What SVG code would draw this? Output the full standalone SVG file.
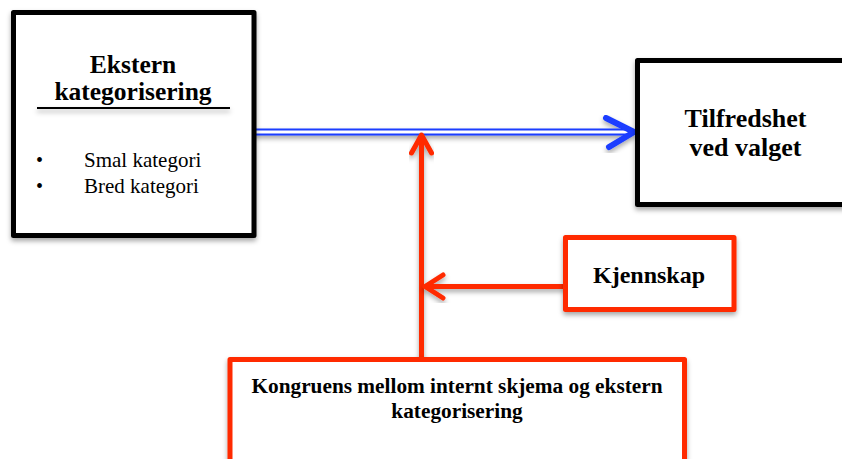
<svg xmlns="http://www.w3.org/2000/svg" width="842" height="459" viewBox="0 0 842 459">
  <defs>
    <filter id="shadow" x="-10%" y="-10%" width="120%" height="130%">
      <feDropShadow dx="0" dy="3" stdDeviation="2.5" flood-color="#000" flood-opacity="0.35"/>
    </filter>
    <filter id="shadow-line" filterUnits="userSpaceOnUse" x="0" y="90" width="260" height="40">
      <feDropShadow dx="0" dy="3" stdDeviation="2.5" flood-color="#000" flood-opacity="0.35"/>
    </filter>
    <style>
      .box-black { fill: #fff; stroke: #000; stroke-width: 5; stroke-linejoin: round; }
      .box-red { fill: #fff; stroke: #ff2a00; stroke-width: 5; stroke-linejoin: round; }
      .title { font-family: "Liberation Serif", "Times New Roman", serif; font-weight: bold; fill: #000; text-anchor: middle; }
      .body { font-family: "Liberation Serif", "Times New Roman", serif; fill: #000; }
      .red-line { stroke: #ff2a00; stroke-width: 5; fill: none; stroke-linecap: round; stroke-linejoin: round; }
      .blue-head { stroke: #1a3cff; stroke-width: 6; fill: none; stroke-linecap: round; stroke-linejoin: round; }
    </style>
  </defs>

  <!-- connectors -->
  <g id="connectors">
    <!-- double blue line from Ekstern kategorisering to Tilfredshet -->
    <g filter="url(#shadow)">
      <line x1="254" y1="132" x2="630" y2="132" stroke="#1a3cff" stroke-width="7"/>
      <line x1="254" y1="132" x2="628" y2="132" stroke="#fff" stroke-width="3"/>
      <polyline class="blue-head" points="606,118 634,132 609,147"/>
    </g>
    <!-- red vertical arrow from Kongruens box up to blue line -->
    <g filter="url(#shadow)">
      <line class="red-line" x1="421.5" y1="358" x2="421.5" y2="136" stroke-linecap="butt"/>
      <polyline class="red-line" points="411.5,153 421.5,135 431.5,153"/>
    </g>
    <!-- red horizontal arrow from Kjennskap to vertical arrow -->
    <g filter="url(#shadow)">
      <line class="red-line" x1="565" y1="286.5" x2="427" y2="286.5" stroke-linecap="butt"/>
      <polyline class="red-line" points="443,275 425,286.5 443,298"/>
    </g>
  </g>

  <!-- Ekstern kategorisering -->
  <g id="ekstern">
    <rect class="box-black" x="13.5" y="12.5" width="240.5" height="223" filter="url(#shadow)"/>
    <text class="title" x="133" y="73" font-size="25.5">Ekstern</text>
    <text class="title" x="133" y="100" font-size="25.5">kategorisering</text>
    <rect x="37" y="107" width="193" height="2" fill="#000" filter="url(#shadow-line)"/>
    <text class="body" x="36" y="167" font-size="20">•</text>
    <text class="body" x="84" y="167" font-size="21">Smal kategori</text>
    <text class="body" x="36" y="193" font-size="20">•</text>
    <text class="body" x="84" y="193" font-size="21">Bred kategori</text>
  </g>

  <!-- Tilfredshet ved valget -->
  <g id="tilfredshet">
    <rect class="box-black" x="637.5" y="60.5" width="220" height="144" filter="url(#shadow)"/>
    <text class="title" x="745.5" y="127" font-size="26">Tilfredshet</text>
    <text class="title" x="745.5" y="156" font-size="26">ved valget</text>
  </g>

  <!-- Kjennskap -->
  <g id="kjennskap">
    <rect class="box-red" x="565.5" y="237.5" width="168.5" height="72" filter="url(#shadow)"/>
    <text class="title" x="649" y="283" font-size="24">Kjennskap</text>
  </g>

  <!-- Kongruens mellom internt skjema og ekstern kategorisering -->
  <g id="kongruens">
    <rect class="box-red" x="230" y="359.5" width="454.5" height="130" filter="url(#shadow)"/>
    <text class="title" x="457" y="393" font-size="21.3">Kongruens mellom internt skjema og ekstern</text>
    <text class="title" x="457" y="418" font-size="21.3">kategorisering</text>
  </g>
</svg>
